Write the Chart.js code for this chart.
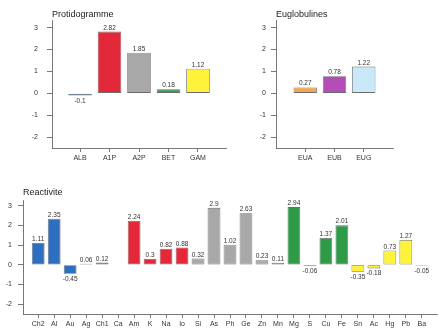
<!DOCTYPE html>
<html>
<head>
<meta charset="utf-8">
<script src="https://cdn.jsdelivr.net/npm/chart.js"></script>
<style>
  html, body { margin: 0; padding: 0; background: #fff; }
  body { width: 441px; height: 336px; position: relative; overflow: hidden; }
  canvas { position: absolute; }
  #protChart { left: 0; top: 0; }
  #eugChart { left: 230px; top: 0; }
  #reacChart { left: 0; top: 170px; }
</style>
</head>
<body>
<canvas id="protChart" width="230" height="170"></canvas>
<canvas id="eugChart" width="211" height="170"></canvas>
<canvas id="reacChart" width="441" height="166"></canvas>

<script>
// Protidogramme
const protLabels = ['ALB', 'A1P', 'A2P', 'BET', 'GAM'];
const protValues = [-0.1, 2.82, 1.85, 0.18, 1.12];
const protColors = ['#2f6fc0', '#e3283a', '#a8a8a8', '#2f9a48', '#fff23a'];

// Euglobulines
const eugLabels = ['EUA', 'EUB', 'EUG'];
const eugValues = [0.27, 0.78, 1.22];
const eugColors = ['#f3a64c', '#b44db8', '#c9e8f8'];

// Reactivite
const reacLabels = ['Ch2', 'Al', 'Au', 'Ag', 'Ch1', 'Ca', 'Am', 'K', 'Na', 'Io', 'Si', 'As', 'Ph',
  'Ge', 'Zn', 'Mn', 'Mg', 'S', 'Cu', 'Fe', 'Sn', 'Ac', 'Hg', 'Pb', 'Ba'];
const reacValues = [1.11, 2.35, -0.45, 0.06, 0.12, 0, 2.24, 0.3, 0.82, 0.88, 0.32, 2.9, 1.02,
  2.63, 0.23, 0.11, 2.94, -0.06, 1.37, 2.01, -0.35, -0.18, 0.73, 1.27, -0.05];
const reacGroups = [6, 4, 6, 4, 5];
const reacGroupColors = ['#2f6fc0', '#e3283a', '#a8a8a8', '#2f9a48', '#fff23a'];

const yTicks = [-2, -1, 0, 1, 2, 3];

const reacColors = [];
reacGroups.forEach((n, g) => { for (let i = 0; i < n; i++) reacColors.push(reacGroupColors[g]); });

const FONT = 'Liberation Sans, Arial, sans-serif';
const INK = '#333';

// writes each bar's value above it (below when negative)
const valueLabels = {
  id: 'valueLabels',
  afterDatasetsDraw(chart) {
    const ctx = chart.ctx;
    const meta = chart.getDatasetMeta(0);
    ctx.save();
    ctx.font = '6.5px ' + FONT;
    ctx.fillStyle = INK;
    ctx.textAlign = 'center';
    meta.data.forEach((bar, i) => {
      const v = chart.data.datasets[0].data[i].y;
      if (v === 0) return;
      if (v > 0) {
        ctx.textBaseline = 'bottom';
        ctx.fillText(String(v), bar.x, bar.y - 0.5);
      } else {
        ctx.textBaseline = 'top';
        ctx.fillText(String(v), bar.x, bar.y + 2);
      }
    });
    ctx.restore();
  }
};

// panel title at the top left of the plot
const panelTitle = {
  id: 'panelTitle',
  afterDraw(chart, args, opts) {
    const ctx = chart.ctx;
    ctx.save();
    ctx.font = '9px ' + FONT;
    ctx.fillStyle = '#222';
    ctx.textAlign = 'left';
    ctx.textBaseline = 'alphabetic';
    ctx.fillText(opts.text, chart.chartArea.left, opts.y);
    ctx.restore();
  }
};

function makePanel(id, labels, values, colors, opt) {
  const n = labels.length;
  new Chart(document.getElementById(id), {
    type: 'bar',
    data: {
      datasets: [{
        data: values.map((v, i) => ({ x: i, y: v })),
        backgroundColor: colors,
        borderColor: 'rgba(60,60,60,0.75)',
        borderWidth: 0.8,
        borderSkipped: false,
        barPercentage: 0.8,
        categoryPercentage: 1
      }]
    },
    options: {
      responsive: false,
      animation: false,
      layout: { padding: opt.padding },
      plugins: {
        legend: { display: false },
        tooltip: { enabled: false },
        panelTitle: { text: opt.title, y: opt.titleY }
      },
      scales: {
        x: {
          type: 'linear',
          offset: false,
          min: -opt.side,
          max: n - 1 + opt.side,
          afterBuildTicks: s => { s.ticks = labels.map((_, i) => ({ value: i })); },
          afterFit: s => { s.height = opt.xHeight; },
          ticks: {
            callback: v => labels[v],
            font: { family: FONT, size: 7 },
            color: INK,
            padding: 2,
            maxRotation: 0,
            autoSkip: false
          },
          grid: { offset: false, drawOnChartArea: false, drawTicks: true, tickLength: 4, color: '#555', lineWidth: 0.8 },
          border: { display: true, color: '#555', width: 0.8 }
        },
        y: {
          min: -2.5,
          max: opt.yMax,
          afterBuildTicks: s => { s.ticks = yTicks.map(v => ({ value: v })); },
          afterFit: s => { s.width = opt.yWidth; },
          ticks: {
            font: { family: FONT, size: 7 },
            color: INK,
            padding: opt.yPad
          },
          grid: { drawOnChartArea: false, drawTicks: true, tickLength: 5, color: '#555', lineWidth: 0.8 },
          border: { display: true, color: '#555', width: 0.8 }
        }
      }
    },
    plugins: [valueLabels, panelTitle]
  });
}

makePanel('protChart', protLabels, protValues, protColors, {
  title: 'Protidogramme', titleY: 17, yMax: 3.35, side: 0.95, yPad: 9,
  yWidth: 52, xHeight: 22, padding: { top: 20, right: 4, left: 0, bottom: 0 }
});

makePanel('eugChart', eugLabels, eugValues, eugColors, {
  title: 'Euglobulines', titleY: 17, yMax: 3.35, side: 1.0, yPad: 5,
  yWidth: 46, xHeight: 22, padding: { top: 20, right: 48, left: 0, bottom: 0 }
});

makePanel('reacChart', reacLabels, reacValues, reacColors, {
  title: 'Reactivite', titleY: 25, yMax: 3.3, side: 0.95, yPad: 6,
  yWidth: 23, xHeight: 22, padding: { top: 30, right: 4, left: 0, bottom: 0 }
});
</script>
</body>
</html>
